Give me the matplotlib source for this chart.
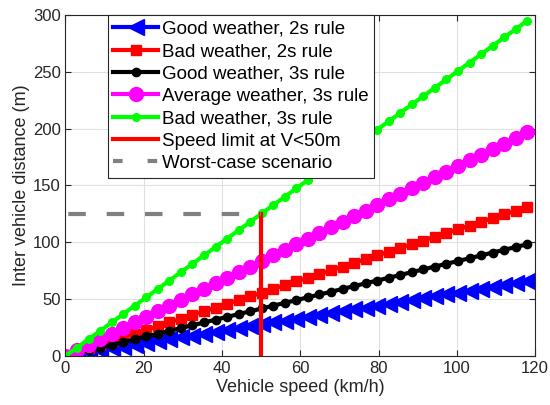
import matplotlib
matplotlib.use('Agg')
import matplotlib.pyplot as plt
from matplotlib.lines import Line2D

# Data
speeds = [0, 2.95, 5.9, 8.85, 11.8, 14.75, 17.7, 20.65, 23.6, 26.55, 29.5, 32.45, 35.4, 38.35,
          41.3, 44.25, 47.2, 50.15, 53.1, 56.05, 59, 61.95, 64.9, 67.85, 70.8, 73.75, 76.7,
          79.65, 82.6, 85.55, 88.5, 91.45, 94.4, 97.35, 100.3, 103.25, 106.2, 109.15, 112.1,
          115.05, 118]

good_2s = [0, 1.6, 3.3, 4.9, 6.6, 8.2, 9.8, 11.5, 13.1, 14.8, 16.4, 18.0, 19.7, 21.3, 22.9,
           24.6, 26.2, 27.9, 29.5, 31.1, 32.8, 34.4, 36.1, 37.7, 39.3, 41.0, 42.6, 44.3, 45.9,
           47.5, 49.2, 50.8, 52.4, 54.1, 55.7, 57.4, 59.0, 60.6, 62.3, 63.9, 65.6]
bad_2s = [0, 3.3, 6.6, 9.8, 13.1, 16.4, 19.7, 22.9, 26.2, 29.5, 32.8, 36.1, 39.3, 42.6, 45.9,
          49.2, 52.4, 55.7, 59.0, 62.3, 65.6, 68.8, 72.1, 75.4, 78.7, 81.9, 85.2, 88.5, 91.8,
          95.1, 98.3, 101.6, 104.9, 108.2, 111.4, 114.7, 118.0, 121.3, 124.6, 127.8, 131.1]
good_3s = [0, 2.5, 4.9, 7.4, 9.8, 12.3, 14.8, 17.2, 19.7, 22.1, 24.6, 27.0, 29.5, 32.0, 34.4,
           36.9, 39.3, 41.8, 44.3, 46.7, 49.2, 51.6, 54.1, 56.5, 59.0, 61.5, 63.9, 66.4, 68.8,
           71.3, 73.8, 76.2, 78.7, 81.1, 83.6, 86.0, 88.5, 91.0, 93.4, 95.9, 98.3]
avg_3s = [0, 4.9, 9.8, 14.8, 19.7, 24.6, 29.5, 34.4, 39.3, 44.3, 49.2, 54.1, 59.0, 63.9, 68.8,
          73.8, 78.7, 83.6, 88.5, 93.4, 98.3, 103.3, 108.2, 113.1, 118.0, 122.9, 127.8, 132.8,
          137.7, 142.6, 147.5, 152.4, 157.3, 162.3, 167.2, 172.1, 177.0, 181.9, 186.8, 191.8,
          196.7]
bad_3s = [0, 7.4, 14.8, 22.1, 29.5, 36.9, 44.3, 51.6, 59.0, 66.4, 73.8, 81.1, 88.5, 95.9,
          103.3, 110.6, 118.0, 125.4, 132.8, 140.1, 147.5, 154.9, 162.3, 169.6, 177.0, 184.4,
          191.8, 199.1, 206.5, 213.9, 221.3, 228.6, 236.0, 243.4, 250.8, 258.1, 265.5, 272.9,
          280.3, 287.6, 295.0]

limit_x = [50, 50]
limit_y = [0, 125]
worst_x = [0, 50]
worst_y = [125, 125]

plt.rcParams['font.family'] = ['Liberation Sans', 'DejaVu Sans']
txt = (0.15, 0.15, 0.15)
gray = (0.5, 0.5, 0.5)

fig = plt.figure(figsize=(5.5, 4.05), dpi=100)
ax = fig.add_axes([0.119, 0.121, 0.854, 0.842])

ax.plot(speeds, good_2s, color='blue', marker='<', markersize=11, lw=3, label='Good weather, 2s rule')
ax.plot(speeds, bad_2s, color='red', marker='s', markersize=7.5, lw=3, label='Bad weather, 2s rule')
ax.plot(speeds, good_3s, color='black', marker='.', markersize=12, lw=3, label='Good weather, 3s rule')
ax.plot(speeds, avg_3s, color='magenta', marker='o', markersize=10, lw=3, label='Average weather, 3s rule')
ax.plot(speeds, bad_3s, color=(0, 1, 0), marker='.', markersize=11, lw=3, label='Bad weather, 3s rule')
ax.plot(limit_x, limit_y, color='red', lw=3, label='Speed limit at V<50m')
ax.plot(worst_x, worst_y, color=gray, lw=3, dashes=(0, 0.8, 4.2, 4.2))

ax.set_xlim(0, 120)
ax.set_ylim(0, 300)
ax.set_xticks(range(0, 121, 20))
ax.set_yticks(range(0, 301, 50))
ax.grid(True, color=(0.88, 0.88, 0.88), lw=0.8)
ax.set_axisbelow(True)
ax.tick_params(direction='in', top=True, right=True, labelsize=12, colors=txt, length=4)
for s in ax.spines.values():
    s.set_color(txt)
ax.set_xlabel('Vehicle speed (km/h)', fontsize=13, color=txt, labelpad=2)
ax.set_ylabel('Inter vehicle distance (m)', fontsize=13, color=txt, labelpad=2)

# legend: dashed proxy so the handle shows "-  -" like the original
handles, labels = ax.get_legend_handles_labels()
handles.append(Line2D([], [], color=gray, lw=3, dashes=(2.3, 6.0)))
labels.append('Worst-case scenario')
leg = ax.legend(handles, labels, loc='upper left', bbox_to_anchor=(0.09, 1.0), borderaxespad=0,
                fontsize=13.5, numpoints=1, handlelength=2.4, handletextpad=0.2, labelspacing=0.28,
                fancybox=False, framealpha=1, edgecolor=txt, borderpad=0.3)
leg.get_frame().set_linewidth(0.8)

fig.savefig('out.png', dpi=100)
